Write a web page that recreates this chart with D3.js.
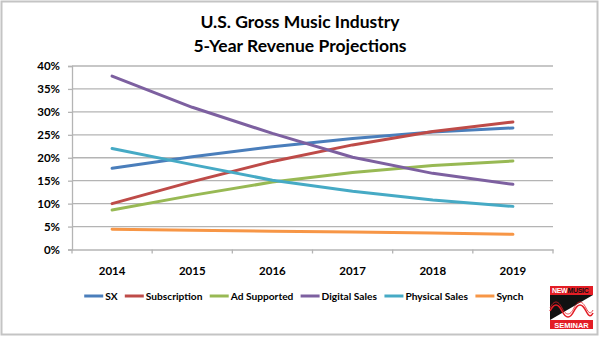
<!DOCTYPE html>
<html>
<head>
<meta charset="utf-8">
<script src="https://cdn.jsdelivr.net/npm/d3@7"></script>
<style>
  html, body { margin: 0; padding: 0; background: #fff; }
  svg { display: block; font-family: Lato, "Open Sans", sans-serif; }
</style>
</head>
<body>
<svg id="chart" width="600" height="337"></svg>
<script>
// Revenue share projections by year, one array per revenue stream (percent)
const years = ["2014", "2015", "2016", "2017", "2018", "2019"];
const sx           = [17.7, 20.2, 22.4, 24.2, 25.6, 26.5];
const subscription = [10.0, 14.8, 19.2, 22.8, 25.7, 27.8];
const adSupported  = [8.6, 11.8, 14.7, 16.8, 18.3, 19.3];
const digitalSales = [37.8, 31.0, 25.3, 20.1, 16.6, 14.2];
const physicalSales= [22.0, 18.5, 15.1, 12.7, 10.8, 9.4];
const synch        = [4.4, 4.2, 4.0, 3.8, 3.6, 3.3];
const yTicks = [0, 5, 10, 15, 20, 25, 30, 35, 40];

const seriesNames = ["SX", "Subscription", "Ad Supported", "Digital Sales", "Physical Sales", "Synch"];
const seriesValues = [sx, subscription, adSupported, digitalSales, physicalSales, synch];
const seriesColors = ["#4A7EBB", "#BE4B48", "#98B954", "#7D60A0", "#46AAC5", "#F79646"];

const series = seriesNames.map((name, i) => ({ name, values: seriesValues[i], color: seriesColors[i] }));

const svg = d3.select("#chart");

// outer frame
svg.append("rect")
  .attr("x", 1.5).attr("y", 1.5).attr("width", 596).attr("height", 333)
  .attr("fill", "#fff").attr("stroke", "#c4c4c4").attr("stroke-width", 2);

// title
const title = svg.append("g").attr("font-weight", 700).attr("font-size", 17.5)
  .attr("text-anchor", "middle").attr("fill", "#000");
title.append("text").attr("x", 300).attr("y", 28).text("U.S. Gross Music Industry");
title.append("text").attr("x", 300).attr("y", 52).text("5-Year Revenue Projections");

const plot = { left: 72, right: 553, top: 66, bottom: 249.5 };

const x = d3.scaleBand().domain(years).range([plot.left, plot.right]);
const y = d3.scaleLinear().domain([0, 40]).range([plot.bottom, plot.top]);

// horizontal gridlines
svg.append("g").selectAll("line").data(yTicks.filter(d => d > 0)).join("line")
  .attr("x1", plot.left).attr("x2", plot.right)
  .attr("y1", d => y(d)).attr("y2", d => y(d))
  .attr("stroke", "#b4b4b4").attr("stroke-width", 1.3);

// y axis
const yAxis = svg.append("g").attr("transform", `translate(${plot.left},0)`)
  .call(d3.axisLeft(y).tickValues(yTicks).tickFormat(d => d + "%").tickSize(4).tickPadding(8));
yAxis.select(".domain").attr("stroke", "#b4b4b4").attr("stroke-width", 1.3);
yAxis.selectAll(".tick line").attr("stroke", "#b4b4b4").attr("stroke-width", 1.3);
yAxis.selectAll("text").attr("font-family", "Lato, sans-serif").attr("font-size", 11.5)
  .attr("font-weight", 700).attr("fill", "#000");

// x axis with tick marks between categories
const xAxis = svg.append("g").attr("transform", `translate(0,${plot.bottom})`)
  .call(d3.axisBottom(x).tickSize(0).tickPadding(17));
xAxis.select(".domain").attr("stroke", "#b4b4b4").attr("stroke-width", 1.3);
xAxis.selectAll("text").attr("font-family", "Lato, sans-serif").attr("font-size", 11.5)
  .attr("font-weight", 700).attr("fill", "#000");
xAxis.selectAll("line.sep").data(d3.range(years.length + 1)).join("line")
  .attr("class", "sep")
  .attr("x1", i => plot.left + i * x.step()).attr("x2", i => plot.left + i * x.step())
  .attr("y1", 0).attr("y2", 4)
  .attr("stroke", "#b4b4b4").attr("stroke-width", 1.3);

// series lines
const line = d3.line()
  .x((d, i) => x(years[i]) + x.bandwidth() / 2)
  .y(d => y(d));

svg.append("g").selectAll("path").data(series).join("path")
  .attr("d", d => line(d.values))
  .attr("fill", "none")
  .attr("stroke", d => d.color)
  .attr("stroke-width", 3)
  .attr("stroke-linejoin", "round")
  .attr("stroke-linecap", "round");

// legend: swatch + label, laid out left to right and centred under the plot
const legend = svg.append("g").attr("transform", "translate(0,296)");
const items = legend.selectAll("g").data(series).join("g");
items.append("line").attr("x1", 0).attr("x2", 19).attr("y1", 0).attr("y2", 0)
  .attr("stroke", d => d.color).attr("stroke-width", 3);
items.append("text").attr("x", 21).attr("y", 4)
  .attr("font-size", 10.2).attr("font-weight", 700).attr("fill", "#000")
  .text(d => d.name);
const widths = [];
items.each(function () { widths.push(this.getBBox().width); });
const gap = 7;
const total = d3.sum(widths) + gap * (widths.length - 1);
let cursor = 304 - total / 2;
items.attr("transform", (d, i) => {
  const t = `translate(${cursor},0)`;
  cursor += widths[i] + gap;
  return t;
});

// New Music Seminar badge
const logo = svg.append("g").attr("transform", "translate(550,286)");
logo.append("rect").attr("x", 0).attr("y", 0).attr("width", 43).attr("height", 43).attr("fill", "#fff");
logo.append("rect").attr("x", 0).attr("y", 0).attr("width", 43).attr("height", 9).attr("fill", "#e31d25");
logo.append("text").attr("x", 2).attr("y", 7.3).attr("font-size", 7).attr("font-weight", 900)
  .attr("font-family", "Liberation Sans, sans-serif").attr("letter-spacing", -0.3)
  .attr("fill", "#fff").text("NEW")
  .append("tspan").attr("fill", "#111").text("MUSIC");
logo.append("path").attr("d", "M0,9 L43,9 L0,34 Z").attr("fill", "#111");
logo.append("path").attr("d", "M0,25 C4,17 8,17 12,25 C16,33 20,33 24,25 C28,17 32,17 36,25 C39,31 41,31 43,27")
  .attr("fill", "none").attr("stroke", "#e31d25").attr("stroke-width", 1.6);
logo.append("path").attr("d", "M0,22 C4,14 8,14 12,22 C16,30 20,30 24,22 C28,14 32,14 36,22 C39,28 41,28 43,24")
  .attr("fill", "none").attr("stroke", "#e31d25").attr("stroke-width", 0.8);
logo.append("rect").attr("x", 0).attr("y", 34).attr("width", 43).attr("height", 9).attr("fill", "#e31d25");
logo.append("text").attr("x", 21.5).attr("y", 41.5).attr("text-anchor", "middle")
  .attr("font-size", 7.5).attr("font-weight", 900).attr("font-family", "Liberation Sans, sans-serif")
  .attr("fill", "#fff").text("SEMINAR");
</script>
</body>
</html>
